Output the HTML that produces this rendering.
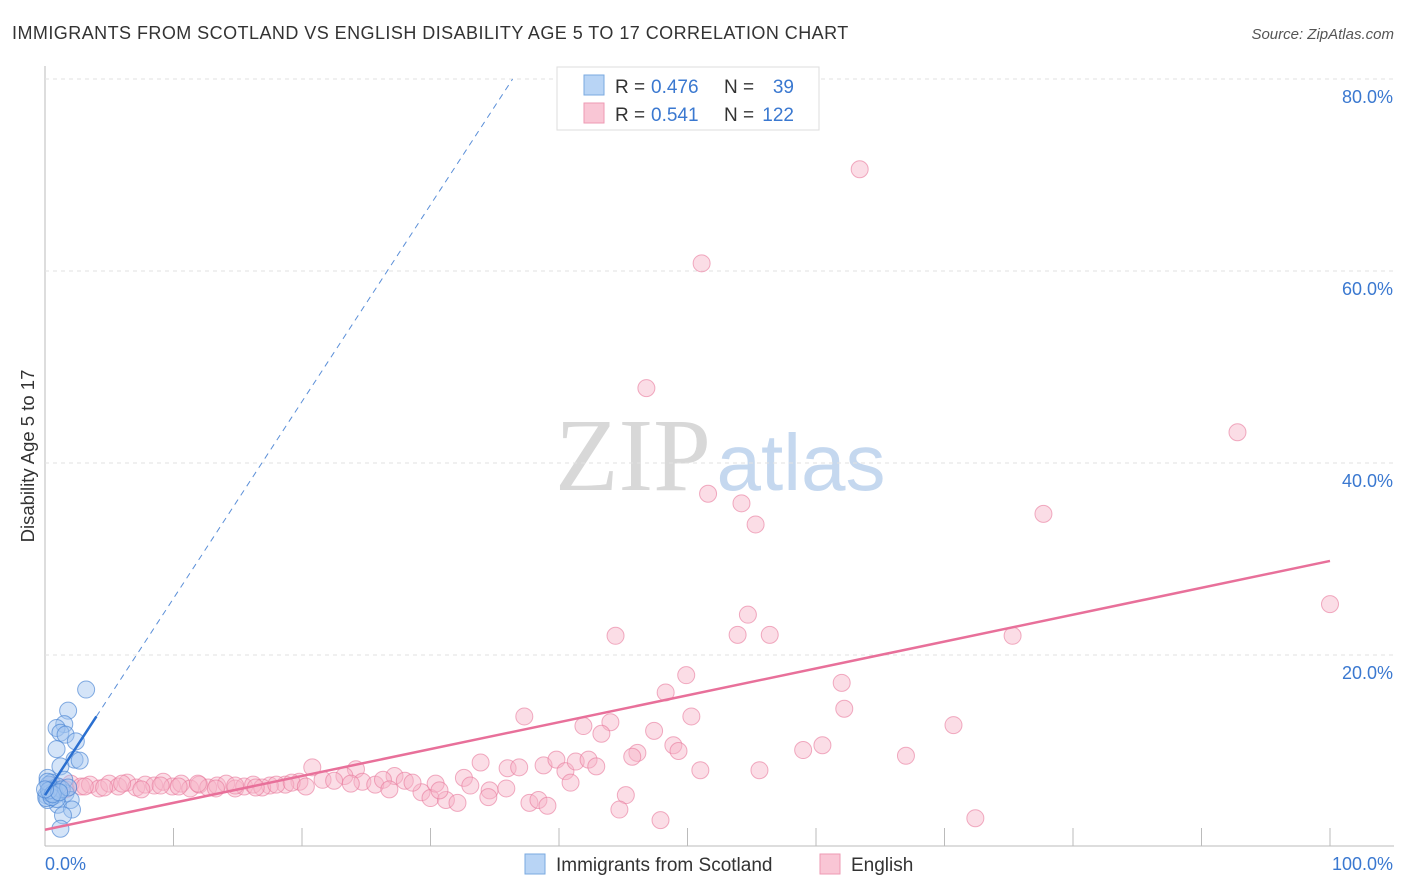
<!DOCTYPE html>
<html><head><meta charset="utf-8">
<style>
body{margin:0;background:#fff;font-family:"Liberation Sans",sans-serif;}
#wrap{position:relative;width:1406px;height:892px;overflow:hidden;}
</style></head>
<body>
<div id="wrap">
<svg id="svg" width="1406" height="892" xmlns="http://www.w3.org/2000/svg">
<text x="12" y="39" font-size="18" fill="#333" letter-spacing="0.45">IMMIGRANTS FROM SCOTLAND VS ENGLISH DISABILITY AGE 5 TO 17 CORRELATION CHART</text>
<text x="1394" y="39" font-size="15" fill="#555" font-style="italic" text-anchor="end">Source: ZipAtlas.com</text>
<text x="34" y="456" font-size="18.5" fill="#333" text-anchor="middle" transform="rotate(-90 34 456)">Disability Age 5 to 17</text>
<g><text x="633" y="490" font-size="104" fill="#d8d8d8" font-family="Liberation Serif,serif" text-anchor="middle">ZIP</text><text x="801" y="490" font-size="80" fill="#c5d8ef" text-anchor="middle">atlas</text></g>
<g id="grid"></g><g id="marks"></g>
<g>
<rect x="557" y="67" width="262" height="63" fill="#fff" stroke="#ddd"/>
<rect x="584" y="75" width="20" height="20" fill="#b8d4f5" stroke="#7aaae0"/>
<rect x="584" y="103" width="20" height="20" fill="#f9c6d5" stroke="#ee9ab3"/>
<g font-size="19">
<text x="615" y="93" fill="#333">R =</text><text x="651" y="93" fill="#3a78d0">0.476</text>
<text x="724" y="93" fill="#333">N =</text><text x="794" y="93" fill="#3a78d0" text-anchor="end">39</text></g>
<g font-size="19">
<text x="615" y="121" fill="#333">R =</text><text x="651" y="121" fill="#3a78d0">0.541</text>
<text x="724" y="121" fill="#333">N =</text><text x="794" y="121" fill="#3a78d0" text-anchor="end">122</text></g>
</g>
<g>
<rect x="525" y="854" width="20" height="20" fill="#b8d4f5" stroke="#7aaae0"/>
<text x="556" y="871" font-size="19" fill="#333">Immigrants from Scotland</text>
<rect x="820" y="854" width="20" height="20" fill="#f9c6d5" stroke="#ee9ab3"/>
<text x="851" y="871" font-size="19" fill="#333">English</text>
</g>
<text x="45" y="870" font-size="18" fill="#3a78d0">0.0%</text>
<text x="1393" y="870" font-size="18" fill="#3a78d0" text-anchor="end">100.0%</text>
</svg>
</div>
<script>
const yTicks=[20,40,60,80];
const yTickLabels=["20.0%","40.0%","60.0%","80.0%"];
const xTicks=[10,20,30,40,50,60,70,80,90,100];
const scotlandX=[3.2,1.8,1.5,0.9,1.2,1.6,2.4,0.9,2.3,2.7,1.2,0.2,0.5,1.5,0.4,0.8,1.6,2.0,1.0,2.1,1.4,1.2,0.1,0.2,0.6,0.3,0.7,1.0,0.1,0.4,0.9,1.3,0.2,0.5,1.8,0.3,0.6,1.1,0.0];
const scotlandY=[16.4,14.2,12.8,12.4,11.9,11.7,11.0,10.2,9.1,9.0,8.4,7.2,6.7,7.0,5.9,5.4,5.6,4.9,4.4,3.9,3.3,1.9,5.4,4.9,6.1,6.5,5.8,6.3,5.1,5.6,5.0,6.0,6.8,5.2,6.2,5.9,5.5,5.7,6.0];
const englishX=[63.4,51.1,46.8,92.8,51.6,54.2,55.3,77.7,100,44.4,54.7,53.9,56.4,75.3,49.9,48.3,62,62.2,37.3,41.9,44,43.3,50.3,47.4,70.7,60.5,59,48.9,49.3,46.1,45.7,67,51,55.6,33.9,36,36.9,38.8,39.8,40.5,41.3,42.3,42.9,40.9,45.2,44.7,47.9,72.4,20.8,24.2,27.2,32.6,33.1,34.6,35.9,29.3,30,31.2,32.1,34.5,37.7,38.4,39.1,21.6,23.3,24.7,25.7,26.3,26.8,28,28.6,30.4,30.7,19.8,18.7,17.5,
0.5,1.2,2.0,2.8,3.5,4.2,5.0,5.7,6.4,7.1,7.8,8.5,9.2,9.9,10.6,11.3,12.0,12.7,13.4,14.1,14.8,15.5,16.2,16.9,1.6,3.1,4.6,6.0,7.5,9.0,10.4,11.9,13.3,14.8,16.4,18.0,19.2,20.3,22.5,23.8];
const englishY=[70.6,60.8,47.8,43.2,36.8,35.8,33.6,34.7,25.3,22.0,24.2,22.1,22.1,22.0,17.9,16.1,17.1,14.4,13.6,12.6,13.0,11.8,13.6,12.1,12.7,10.6,10.1,10.6,10.0,9.8,9.4,9.5,8.0,8.0,8.8,8.2,8.3,8.5,9.1,7.9,8.9,9.1,8.4,6.7,5.4,3.9,2.8,3.0,8.3,8.1,7.4,7.2,6.4,5.9,6.1,5.7,5.1,4.9,4.6,5.2,4.6,4.9,4.3,7.0,7.4,6.8,6.5,7.0,6.0,6.9,6.7,6.6,5.9,6.8,6.5,6.4,
6.4,6.2,6.6,6.3,6.5,6.1,6.6,6.3,6.7,6.2,6.5,6.4,6.8,6.3,6.6,6.1,6.5,6.2,6.4,6.6,6.1,6.3,6.5,6.2,6.0,6.3,6.2,6.6,6.0,6.4,6.3,6.6,6.1,6.4,6.2,6.5,6.7,6.3,6.9,6.6];
const scotTrend=[5.4,2.05];
const engTrend=[1.8,0.28];

const NS="http://www.w3.org/2000/svg";
const X0=45,X1=1330,Y0=847,YPER=9.6;
const sx=v=>X0+(X1-X0)*v/100;
const sy=v=>Y0-v*YPER;
function mk(t,a,p){const e=document.createElementNS(NS,t);for(const k in a)e.setAttribute(k,a[k]);p.appendChild(e);return e;}
const grid=document.getElementById('grid'),marks=document.getElementById('marks');
let ax=mk('line',{x1:45,y1:66,x2:45,y2:846,stroke:'#bbb'},grid);


let bx=mk('line',{x1:45,y1:846,x2:1394,y2:846,stroke:'#bbb'},grid);


yTicks.forEach((v,i)=>{
 const g=mk('line',{x1:45,y1:sy(v),x2:1394,y2:sy(v),stroke:'#e2e2e2','stroke-dasharray':'4,4'},grid);
 
 
 const t=mk('text',{x:1393,y:sy(v)+24,'font-size':18,fill:'#3a78d0','text-anchor':'end'},grid);
 t.textContent=yTickLabels[i];
 
 
});
xTicks.forEach(v=>{
 const l=mk('line',{x1:sx(v),y1:828,x2:sx(v),y2:846,stroke:'#bbb'},grid);
 
 
});
englishX.forEach((x,i)=>{
 const c=mk('circle',{cx:sx(x),cy:sy(englishY[i]),r:8.5,fill:'rgba(247,180,200,0.45)',stroke:'rgba(232,120,155,0.6)','stroke-width':1},marks);
 
 
});
scotlandX.forEach((x,i)=>{
 const c=mk('circle',{cx:sx(x),cy:sy(scotlandY[i]),r:8.5,fill:'rgba(160,196,240,0.45)',stroke:'rgba(70,130,210,0.65)','stroke-width':1},marks);
 
 
});
const xe=(80-scotTrend[0])/scotTrend[1];
let d=mk('line',{x1:sx(4),y1:sy(scotTrend[0]+scotTrend[1]*4),x2:sx(xe),y2:sy(80),stroke:'#5b8fd8','stroke-width':1,'stroke-dasharray':'6,5'},marks);


let s=mk('line',{x1:sx(0),y1:sy(scotTrend[0]),x2:sx(4),y2:sy(scotTrend[0]+scotTrend[1]*4),stroke:'#2a6fd0','stroke-width':2.5},marks);


let p=mk('line',{x1:sx(0),y1:sy(engTrend[0]),x2:sx(100),y2:sy(engTrend[0]+engTrend[1]*100),stroke:'#e8709a','stroke-width':2.5},marks);


</script>
</body></html>
